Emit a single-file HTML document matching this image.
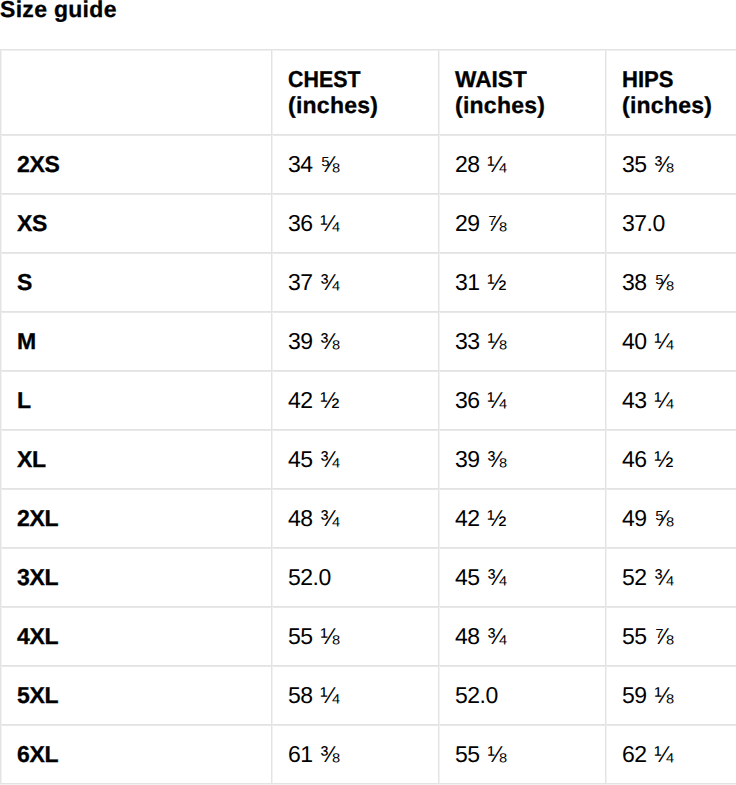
<!DOCTYPE html>
<html><head><meta charset="utf-8"><title>Size guide</title>
<style>
html,body{margin:0;padding:0;background:#fff;}
body{width:736px;height:785px;overflow:hidden;position:relative;font-family:"Liberation Sans",sans-serif;color:#000;text-rendering:geometricPrecision;}
h2{position:absolute;left:0;top:-4px;margin:0;font-size:23px;letter-spacing:0.3px;line-height:26px;font-weight:bold;white-space:nowrap;}
table{position:absolute;left:0;top:49px;border-collapse:collapse;table-layout:fixed;width:773px;}
th,td{border:1px solid #e3e3e3;box-shadow:inset 1px 0 0 #f2f2f2,inset 0 1px 0 #f0f0f0;padding:16px;font-size:23px;line-height:26px;text-align:left;vertical-align:top;white-space:nowrap;}
th{font-weight:bold;}
tbody td{box-shadow:inset 1px 0 0 #f2f2f2,inset 0 1px 0 #e8e8e8;}
.bl{position:absolute;left:0;top:784px;width:736px;height:1px;background:#f0f0f0;}
td{letter-spacing:-0.5px;word-spacing:1.8px;}
td.s{font-weight:bold;letter-spacing:-0.3px;word-spacing:0;}
th,td.s,h2{-webkit-text-stroke:0.3px #000;}
.in{letter-spacing:0.25px;}
.sx{display:inline-block;transform-origin:0 0;}
.wrap{position:absolute;left:0;top:0;width:736px;height:785px;overflow:hidden;}
</style></head><body><div class="wrap">
<h2>Size guide</h2>
<table>
<colgroup><col style="width:271px"><col style="width:167px"><col style="width:167px"><col style="width:168px"></colgroup>
<thead><tr><th></th><th><span class="sx" style="transform:scaleX(0.93)">CHEST</span><br><span class="in">(inches)</span></th><th><span class="sx" style="transform:scaleX(0.985)">WAIST</span><br><span class="in">(inches)</span></th><th><span class="sx" style="transform:scaleX(0.96)">HIPS</span><br><span class="in">(inches)</span></th></tr></thead>
<tbody>
<tr><td class="s">2XS</td><td>34 ⅝</td><td>28 ¼</td><td>35 ⅜</td></tr>
<tr><td class="s">XS</td><td>36 ¼</td><td>29 ⅞</td><td>37.0</td></tr>
<tr><td class="s">S</td><td>37 ¾</td><td>31 ½</td><td>38 ⅝</td></tr>
<tr><td class="s">M</td><td>39 ⅜</td><td>33 ⅛</td><td>40 ¼</td></tr>
<tr><td class="s">L</td><td>42 ½</td><td>36 ¼</td><td>43 ¼</td></tr>
<tr><td class="s">XL</td><td>45 ¾</td><td>39 ⅜</td><td>46 ½</td></tr>
<tr><td class="s">2XL</td><td>48 ¾</td><td>42 ½</td><td>49 ⅝</td></tr>
<tr><td class="s">3XL</td><td>52.0</td><td>45 ¾</td><td>52 ¾</td></tr>
<tr><td class="s">4XL</td><td>55 ⅛</td><td>48 ¾</td><td>55 ⅞</td></tr>
<tr><td class="s">5XL</td><td>58 ¼</td><td>52.0</td><td>59 ⅛</td></tr>
<tr><td class="s">6XL</td><td>61 ⅜</td><td>55 ⅛</td><td>62 ¼</td></tr>
</tbody></table>
<div class="bl"></div>
</div></body></html>
